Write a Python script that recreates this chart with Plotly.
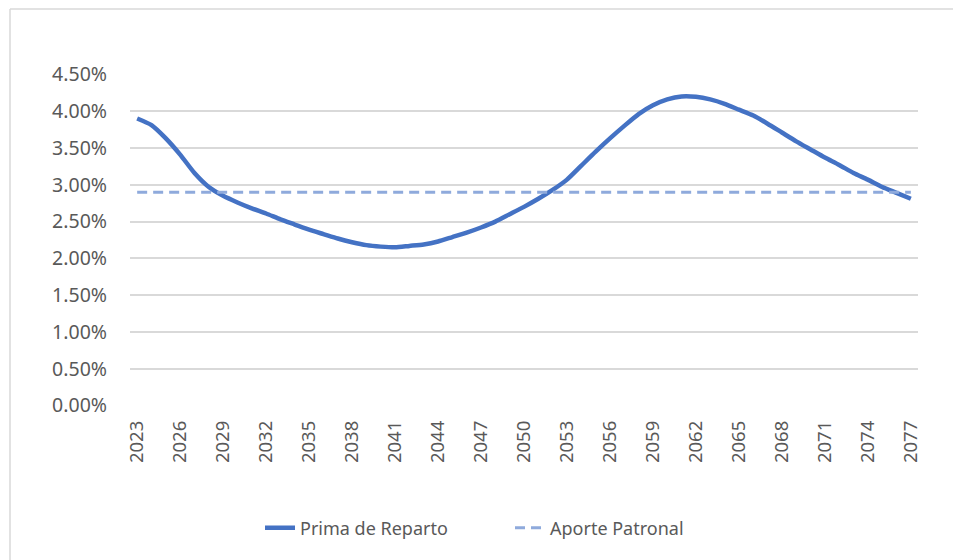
import plotly.graph_objects as go

years = list(range(2023, 2078))
prima_reparto = [
    3.90, 3.81, 3.63, 3.41, 3.16, 2.97, 2.85, 2.76, 2.68, 2.61,
    2.53, 2.46, 2.39, 2.33, 2.27, 2.22, 2.18, 2.16, 2.15, 2.17,
    2.19, 2.23, 2.29, 2.35, 2.42, 2.50, 2.60, 2.70, 2.81, 2.93,
    3.07, 3.26, 3.45, 3.63, 3.80, 3.96, 4.08, 4.16, 4.20, 4.195,
    4.16, 4.10, 4.02, 3.94, 3.83, 3.71, 3.59, 3.48, 3.37, 3.27,
    3.16, 3.07, 2.97, 2.89, 2.81,
]
aporte_patronal = [2.90] * len(years)
tick_years = list(range(2023, 2078, 3))
y_ticks = [0.5 * i for i in range(10)]

W, H = 961, 560
OFF = 8  # page body margin: figure is drawn at (8, 8) in the window
# target window pixel positions of the plot area
pl, pr, pt, pb = 130, 918, 74, 406
ml = pl - OFF
mt = pt - OFF
mr = W - (pr - OFF)
mb = H - (pb - OFF)

font_family = "Noto Sans, Open Sans, sans-serif"
text_color = "#595959"

fig = go.Figure()
fig.add_trace(go.Scatter(
    x=years, y=[v / 100 for v in prima_reparto], mode="lines",
    name="Prima de Reparto",
    line=dict(color="#4472C4", width=4.5, shape="spline", smoothing=0.6),
))
fig.add_trace(go.Scatter(
    x=years, y=[v / 100 for v in aporte_patronal], mode="lines",
    name="Aporte Patronal",
    line=dict(color="#8FAADC", width=3, dash="10px,6px"),
))

pw = W - ml - mr
ph = H - mt - mb

def px_x(p):  # window pixel -> paper x
    return (p - OFF - ml) / pw

def px_y(p):  # window pixel -> paper y
    return (H - mb - (p - OFF)) / ph

# outer chart border (top and left edges visible)
bx, by = px_x(10), px_y(9)
fig.add_shape(type="line", xref="paper", yref="paper", x0=bx, x1=px_x(975),
              y0=by, y1=by, line=dict(color="#D9D9D9", width=1.5))
fig.add_shape(type="line", xref="paper", yref="paper", x0=bx, x1=bx,
              y0=by, y1=px_y(575), line=dict(color="#D9D9D9", width=1.5))

fig.update_layout(
    width=W, height=H,
    margin=dict(l=ml, r=mr, t=mt, b=mb),
    paper_bgcolor="white", plot_bgcolor="white",
    font=dict(family=font_family, size=18, color=text_color),
    showlegend=True,
    legend=dict(orientation="h", x=px_x(252 + OFF), xanchor="left",
                y=px_y(528), yanchor="middle",
                font=dict(size=18, color=text_color), entrywidth=205,
                bgcolor="rgba(0,0,0,0)"),
    xaxis=dict(range=[2022.5, 2077.5], tickmode="array", tickvals=tick_years,
               ticktext=[str(y) for y in tick_years], tickangle=-90,
               showgrid=False, zeroline=False, showline=False, ticks="",
               ticklabelstandoff=10, tickfont=dict(size=18.5, color=text_color)),
    yaxis=dict(range=[-0.00005, 0.04505], tickmode="array",
               tickvals=[v / 100 for v in y_ticks],
               ticktext=[f"{v:.2f}%" for v in y_ticks],
               showgrid=True, gridcolor="#D9D9D9", gridwidth=1.5,
               zeroline=False, showline=False, ticks="",
               ticklabelstandoff=22, tickfont=dict(size=19.5, color=text_color)),
)

fig.write_html("out.html")
